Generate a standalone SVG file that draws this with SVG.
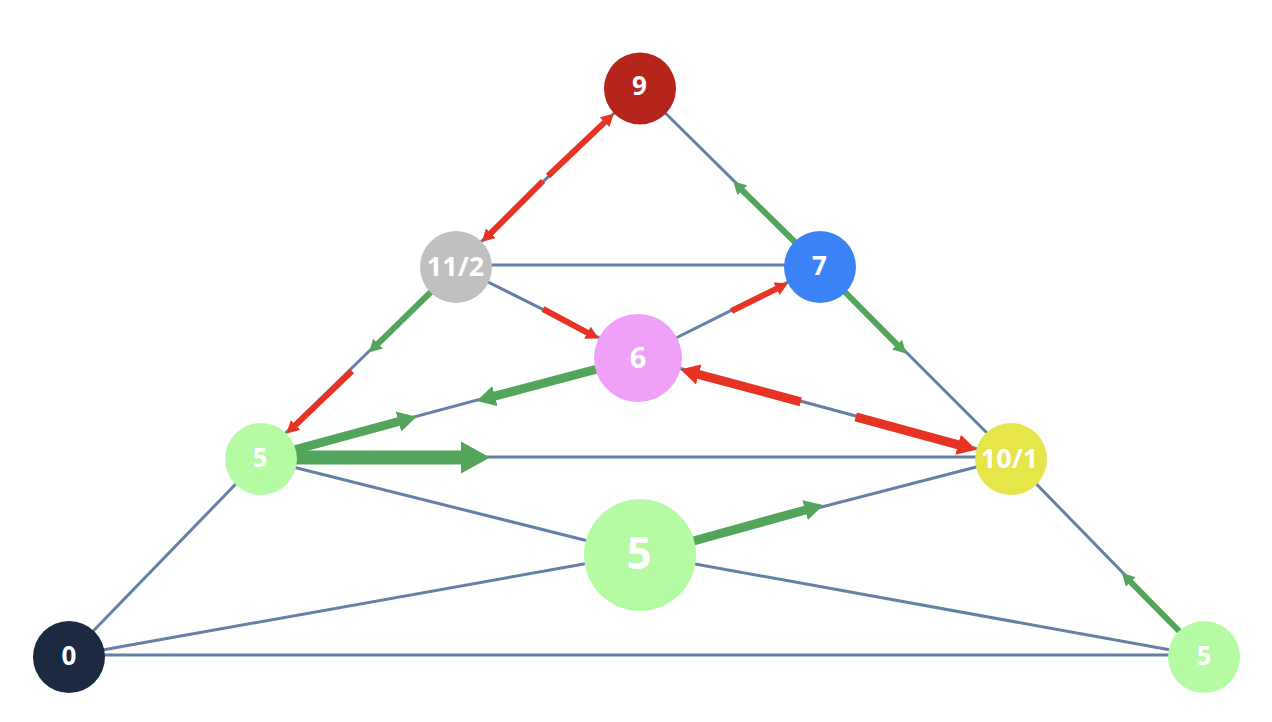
<svg xmlns="http://www.w3.org/2000/svg" width="1272" height="722" viewBox="0 0 1272 722">
<style>
.base{stroke:#6580a6;stroke-width:3;fill:none}
.red{stroke:#e63323;fill:none}
.grn{stroke:#52a55a;fill:none}
.w5{stroke-width:6}
.w9{stroke-width:9}
.w14{stroke-width:14}
.lbl{font-family:"Open Sans","Liberation Sans",sans-serif;font-weight:bold;fill:#ffffff;text-anchor:middle}
</style>
<defs>
<marker id="ar" viewBox="0 0 21 23" markerWidth="2.1" markerHeight="2.3" refX="0.5" refY="11.5" orient="auto" markerUnits="strokeWidth">
<path d="M0,0 L21,11.5 L0,23 z" fill="#e63323"/>
</marker>
<marker id="ag" viewBox="0 0 21 23" markerWidth="2.1" markerHeight="2.3" refX="0.5" refY="11.5" orient="auto" markerUnits="strokeWidth">
<path d="M0,0 L21,11.5 L0,23 z" fill="#52a55a"/>
</marker>
</defs>
<rect width="1272" height="722" fill="#ffffff"/>
<g id="connectors">
<line class="base" x1="640" y1="88" x2="456" y2="266"/>
<line class="base" x1="640" y1="88" x2="820" y2="266"/>
<line class="base" x1="456" y1="265" x2="820" y2="265"/>
<line class="base" x1="456" y1="266" x2="638" y2="357"/>
<line class="base" x1="456" y1="266" x2="261" y2="457"/>
<line class="base" x1="820" y1="266" x2="638" y2="357"/>
<line class="base" x1="820" y1="266" x2="1011" y2="457"/>
<line class="base" x1="638" y1="357" x2="261" y2="458"/>
<line class="base" x1="638" y1="357" x2="1011" y2="458"/>
<line class="base" x1="261" y1="457" x2="1011" y2="457"/>
<line class="base" x1="261" y1="458" x2="69" y2="656"/>
<line class="base" x1="261" y1="459" x2="640" y2="554"/>
<line class="base" x1="640" y1="554" x2="1204" y2="656"/>
<line class="base" x1="69" y1="656" x2="640" y2="554"/>
<line class="base" x1="640" y1="554" x2="1011" y2="458"/>
<line class="base" x1="69" y1="655" x2="1204" y2="655"/>
<line class="base" x1="1011" y1="458" x2="1204" y2="656"/>
<line class="red w5" x1="548" y1="176" x2="604.8" y2="122.1" marker-end="url(#ar)"/>
<line class="red w5" x1="543" y1="181" x2="490.6" y2="233.3" marker-end="url(#ar)"/>
<line class="red w5" x1="543" y1="309" x2="587.7" y2="332.8" marker-end="url(#ar)"/>
<line class="red w5" x1="731.5" y1="311" x2="776.8" y2="288.6" marker-end="url(#ar)"/>
<line class="red w5" x1="352" y1="371" x2="295.4" y2="425.1" marker-end="url(#ar)"/>
<line class="red w9" x1="800.7" y1="401.8" x2="698.3" y2="374.3" marker-end="url(#ar)"/>
<line class="red w9" x1="855.7" y1="416.8" x2="958.5" y2="444.8" marker-end="url(#ar)"/>
<line class="grn w5" x1="800" y1="247" x2="742.1" y2="190.1" marker-end="url(#ag)"/>
<line class="grn w5" x1="840" y1="287" x2="897.4" y2="344.8" marker-end="url(#ag)"/>
<line class="grn w5" x1="436" y1="287" x2="377.8" y2="343.9" marker-end="url(#ag)"/>
<line class="grn w5" x1="1184" y1="636" x2="1130.6" y2="581.8" marker-end="url(#ag)"/>
<line class="grn w9" x1="601" y1="368" x2="494.5" y2="396.2" marker-end="url(#ag)"/>
<line class="grn w9" x1="290" y1="451" x2="398.9" y2="421.5" marker-end="url(#ag)"/>
<line class="grn w14" x1="290" y1="457.5" x2="461.3" y2="457.5" marker-end="url(#ag)"/>
<line class="grn w9" x1="688" y1="542.5" x2="805.5" y2="510" marker-end="url(#ag)"/>
</g>
<g id="n9"><circle cx="640" cy="88.5" r="36" fill="#b5251b"/><text class="lbl" x="639.5" y="95" font-size="26">9</text></g>
<g id="n11_2"><circle cx="456" cy="267" r="36" fill="#c0c0c0"/><text class="lbl" x="455.5" y="276" font-size="27">11/2</text></g>
<g id="n7"><circle cx="820" cy="267" r="36" fill="#3b82f6"/><text class="lbl" x="819.5" y="275" font-size="26">7</text></g>
<g id="n6"><circle cx="638" cy="358" r="44" fill="#eea1f7"/><text class="lbl" x="638" y="367.5" font-size="29">6</text></g>
<g id="n5l"><circle cx="261" cy="459" r="36" fill="#b4fba3"/><text class="lbl" x="260" y="467" font-size="26">5</text></g>
<g id="n10_1"><circle cx="1011" cy="459" r="36" fill="#e6e54a"/><text class="lbl" x="1009.5" y="468" font-size="27">10/1</text></g>
<g id="n5c"><circle cx="640" cy="555" r="56" fill="#b4fba3"/><text class="lbl" x="639" y="568.5" font-size="44">5</text></g>
<g id="n0"><circle cx="69" cy="657" r="36" fill="#1b2941"/><text class="lbl" x="69" y="664.5" font-size="26">0</text></g>
<g id="n5br"><circle cx="1204" cy="657" r="36" fill="#b4fba3"/><text class="lbl" x="1204" y="664.5" font-size="26">5</text></g>
</svg>
